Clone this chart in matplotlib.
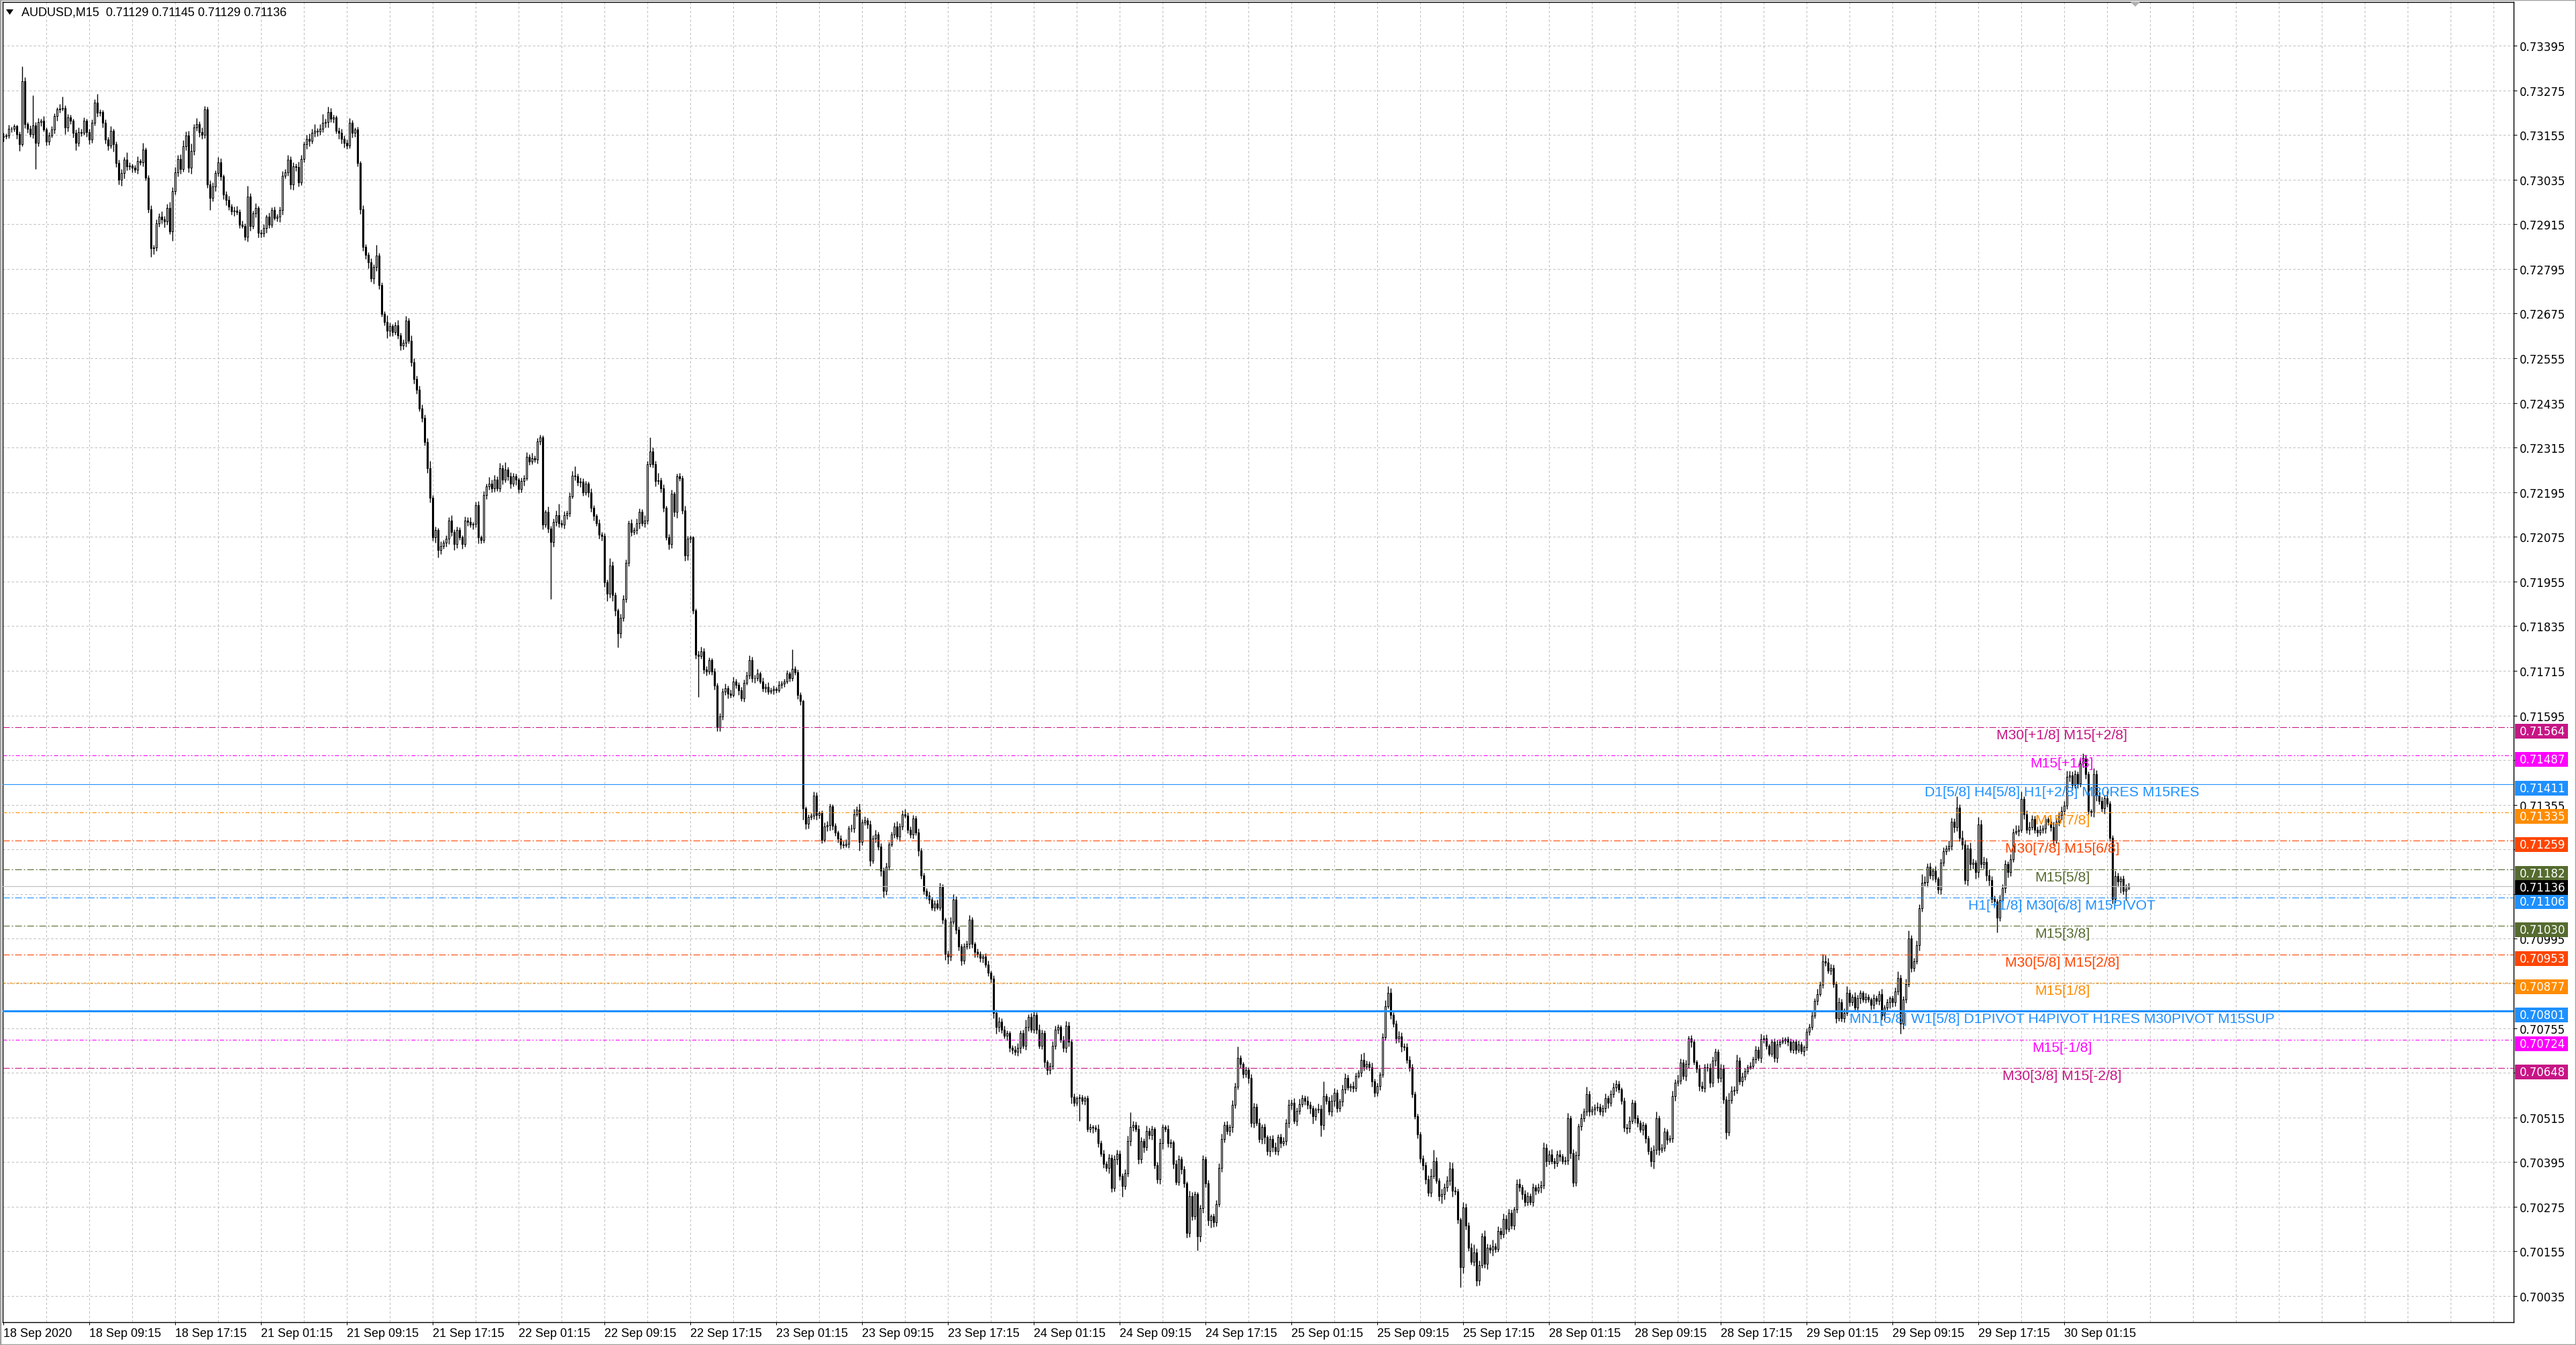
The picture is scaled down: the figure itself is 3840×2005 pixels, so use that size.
import matplotlib
matplotlib.use("Agg")
import matplotlib.pyplot as plt
from matplotlib.patches import Rectangle, Polygon
from matplotlib.transforms import blended_transform_factory
import numpy as np

plt.rcParams['lines.scale_dashes'] = False

# ---- data (prices in points above 0.70000) ----
symbol_title = "AUDUSD,M15  0.71129 0.71145 0.71129 0.71136"
first_open = 3150

closes = [
    3152, 3153, 3172, 3172, 3178, 3157, 3130, 3300, 3184, 3172, 3157, 3181, 3133, 3190, 3193, 3170, 3137, 3154, 3169, 3205, 3223, 3226, 3228, 3175, 3202, 3193, 3160, 3133, 3163, 3161, 3193, 3163,
    3142, 3187, 3241, 3214, 3216, 3187, 3142, 3127, 3166, 3130, 3079, 3034, 3052, 3088, 3070, 3072, 3067, 3061, 3085, 3082, 3115, 3040, 2956, 2851, 2853, 2917, 2935, 2929, 2923, 2959, 2896, 3004,
    3055, 3091, 3064, 3124, 3154, 3067, 3112, 3175, 3184, 3163, 3155, 3223, 3022, 2986, 3016, 3052, 3082, 3043, 2995, 2980, 2962, 2950, 2952, 2948, 2914, 2911, 2881, 2989, 2911, 2944, 2959, 2893,
    2890, 2905, 2935, 2914, 2953, 2932, 2935, 2953, 3046, 3055, 3088, 3022, 3070, 3068, 3028, 3091, 3130, 3145, 3139, 3160, 3166, 3164, 3172, 3187, 3190, 3217, 3199, 3202, 3166, 3160, 3145, 3133,
    3127, 3187, 3160, 3169, 3079, 2956, 2854, 2833, 2812, 2770, 2800, 2830, 2752, 2674, 2653, 2629, 2641, 2626, 2644, 2617, 2590, 2596, 2656, 2602, 2545, 2500, 2470, 2420, 2395, 2330, 2260, 2180,
    2074, 2093, 2040, 2051, 2059, 2070, 2119, 2089, 2055, 2093, 2074, 2055, 2119, 2115, 2108, 2110, 2161, 2074, 2066, 2187, 2210, 2218, 2206, 2229, 2206, 2259, 2229, 2255, 2237, 2218, 2237, 2229,
    2203, 2225, 2233, 2290, 2278, 2286, 2282, 2331, 2343, 2108, 2142, 2097, 2062, 2115, 2134, 2112, 2108, 2134, 2138, 2184, 2240, 2237, 2221, 2223, 2195, 2218, 2195, 2153, 2131, 2112, 2081, 2078,
    1953, 1922, 1998, 1918, 1877, 1816, 1858, 1907, 2006, 2112, 2089, 2093, 2112, 2142, 2112, 2119, 2271, 2305, 2271, 2225, 2227, 2206, 2153, 2074, 2055, 2191, 2142, 2237, 2233, 2146, 2025, 2070,
    2074, 1877, 1759, 1755, 1768, 1718, 1714, 1743, 1714, 1676, 1564, 1592, 1660, 1668, 1654, 1651, 1686, 1678, 1662, 1642, 1683, 1702, 1743, 1695, 1696, 1707, 1687, 1669, 1672, 1660, 1662, 1666,
    1663, 1678, 1680, 1686, 1707, 1696, 1720, 1711, 1651, 1633, 1345, 1304, 1322, 1326, 1380, 1327, 1332, 1261, 1297, 1300, 1351, 1298, 1280, 1264, 1249, 1247, 1250, 1291, 1292, 1330, 1342, 1256,
    1308, 1313, 1303, 1205, 1265, 1276, 1243, 1177, 1123, 1188, 1248, 1276, 1297, 1270, 1297, 1330, 1326, 1287, 1276, 1319, 1281, 1232, 1166, 1123, 1112, 1101, 1079, 1090, 1079, 1134, 1046, 954,
    948, 1041, 1101, 1019, 975, 937, 975, 981, 1046, 981, 959, 954, 943, 948, 926, 904, 888, 795, 757, 773, 751, 735, 741, 702, 697, 691, 702, 741, 708, 757, 784, 751,
    790, 751, 708, 741, 664, 642, 653, 708, 751, 757, 724, 702, 762, 719, 571, 555, 566, 568, 560, 566, 484, 489, 487, 484, 446, 418, 391, 380, 407, 326, 402, 418,
    358, 331, 364, 451, 489, 495, 484, 402, 451, 435, 478, 467, 484, 386, 348, 446, 489, 484, 446, 448, 391, 342, 402, 375, 337, 205, 304, 249, 309, 195, 271, 402,
    337, 238, 249, 233, 282, 380, 457, 495, 478, 489, 549, 598, 675, 659, 631, 642, 620, 500, 544, 500, 457, 489, 462, 424, 457, 435, 424, 462, 446, 451, 500, 549,
    554, 506, 533, 551, 566, 560, 548, 539, 518, 536, 538, 494, 572, 560, 530, 560, 581, 539, 557, 590, 620, 596, 599, 593, 626, 635, 670, 652, 658, 650, 611, 581,
    599, 629, 730, 814, 850, 790, 766, 727, 733, 706, 703, 670, 650, 578, 518, 470, 404, 387, 348, 312, 357, 398, 345, 303, 309, 327, 345, 378, 318, 316, 240, 112,
    273, 225, 165, 127, 153, 76, 118, 195, 121, 165, 159, 168, 162, 210, 201, 243, 216, 258, 225, 267, 336, 327, 309, 288, 303, 288, 327, 318, 327, 333, 434, 398,
    416, 398, 392, 416, 410, 398, 400, 512, 419, 339, 413, 491, 512, 530, 578, 530, 536, 542, 544, 530, 539, 566, 554, 578, 596, 605, 590, 560, 488, 485, 506, 554,
    512, 500, 482, 494, 458, 425, 398, 428, 512, 428, 434, 476, 455, 458, 572, 608, 614, 662, 626, 658, 727, 718, 664, 646, 599, 593, 650, 647, 608, 667, 691, 620,
    646, 564, 475, 561, 586, 589, 668, 611, 625, 639, 650, 654, 671, 696, 675, 725, 728, 707, 686, 718, 675, 711, 718, 721, 725, 718, 696, 718, 696, 711, 693, 703,
    746, 757, 789, 828, 846, 871, 935, 931, 910, 917, 874, 782, 824, 782, 796, 849, 824, 839, 810, 835, 849, 832, 839, 832, 817, 835, 828, 846, 789, 810, 824, 835,
    824, 853, 889, 767, 832, 874, 995, 917, 935, 978, 1077, 1145, 1147, 1188, 1166, 1177, 1156, 1127, 1199, 1231, 1238, 1245, 1309, 1295, 1348, 1266, 1248, 1152, 1238, 1195, 1199, 1174,
    1302, 1195, 1202, 1166, 1152, 1102, 1095, 1052, 1099, 1131, 1195, 1174, 1209, 1281, 1284, 1288, 1370, 1330, 1288, 1295, 1316, 1288, 1281, 1288, 1291, 1316, 1309, 1295, 1259, 1309, 1327, 1338,
    1352, 1430, 1434, 1409, 1437, 1412, 1466, 1480, 1437, 1338, 1334, 1437, 1380, 1366, 1345, 1373, 1359, 1266, 1102, 1163, 1149, 1156, 1124, 1129, 1136,
]

# wick length above / below the body, in points
wick_hi = [
    8, 6, 10, 5, 6, 4, 8, 39, 10, 6, 8, 80, 8, 10, 6, 12, 6, 8, 10, 8, 6, 12, 30, 6, 10, 8, 6, 10, 12, 8, 10, 6,
    8, 10, 10, 24, 8, 6, 10, 8, 12, 6, 8, 10, 12, 8, 20, 10, 6, 8, 12, 6, 18, 6, 8, 10, 6, 12, 10, 14, 8, 10, 16, 10,
    14, 10, 12, 16, 10, 12, 20, 10, 16, 8, 12, 10, 8, 10, 12, 8, 14, 10, 6, 8, 12, 8, 10, 12, 8, 10, 6, 30, 10, 8, 12, 6,
    8, 10, 6, 12, 8, 10, 8, 10, 12, 8, 14, 10, 12, 8, 16, 10, 8, 10, 14, 12, 18, 8, 12, 24, 8, 14, 10, 8, 6, 10, 12, 8,
    10, 14, 8, 6, 8, 6, 10, 8, 6, 12, 8, 30, 8, 6, 8, 18, 10, 6, 8, 14, 6, 10, 12, 8, 14, 10, 8, 12, 10, 8, 10, 20,
    8, 10, 6, 12, 8, 10, 8, 14, 6, 10, 8, 6, 10, 8, 12, 6, 8, 10, 6, 12, 8, 18, 10, 12, 8, 14, 10, 20, 8, 12, 10, 8,
    6, 10, 8, 12, 8, 14, 8, 10, 6, 4, 6, 14, 8, 10, 12, 30, 8, 10, 8, 10, 12, 24, 8, 12, 10, 8, 6, 10, 8, 6, 10, 8,
    6, 8, 20, 10, 8, 6, 10, 12, 8, 6, 10, 8, 12, 10, 8, 14, 8, 38, 10, 8, 20, 8, 10, 6, 8, 10, 6, 8, 10, 6, 12, 8,
    6, 4, 6, 10, 12, 8, 10, 8, 6, 8, 6, 10, 8, 12, 8, 10, 12, 8, 6, 10, 8, 12, 14, 10, 8, 14, 6, 10, 8, 12, 8, 10,
    6, 10, 8, 8, 10, 6, 52, 8, 8, 6, 4, 6, 8, 6, 10, 8, 6, 8, 10, 12, 8, 6, 8, 6, 10, 8, 12, 8, 10, 14, 8, 16,
    8, 10, 8, 10, 8, 12, 6, 8, 10, 12, 8, 6, 10, 14, 8, 10, 14, 8, 10, 8, 6, 10, 8, 6, 8, 10, 6, 8, 10, 12, 8, 6,
    10, 12, 14, 8, 10, 6, 8, 10, 12, 8, 6, 10, 8, 6, 8, 10, 6, 8, 10, 12, 8, 10, 8, 6, 8, 10, 12, 8, 10, 20, 8, 12,
    10, 8, 14, 10, 8, 6, 10, 12, 10, 8, 6, 10, 12, 10, 6, 8, 6, 10, 8, 6, 8, 10, 6, 8, 12, 8, 10, 6, 10, 8, 12, 10,
    8, 6, 12, 14, 40, 10, 8, 10, 12, 8, 14, 10, 8, 6, 10, 12, 8, 6, 10, 8, 6, 10, 12, 8, 10, 6, 14, 10, 8, 6, 10, 12,
    8, 10, 6, 8, 10, 12, 14, 8, 10, 8, 12, 10, 30, 8, 6, 10, 8, 12, 10, 8, 12, 8, 10, 6, 8, 10, 12, 8, 10, 12, 10, 14,
    10, 12, 8, 14, 10, 8, 12, 10, 8, 6, 14, 10, 40, 8, 10, 16, 12, 10, 8, 12, 14, 10, 8, 12, 10, 8, 16, 20, 10, 8, 12, 8,
    10, 8, 12, 16, 18, 12, 8, 10, 14, 10, 8, 12, 10, 8, 6, 8, 6, 10, 8, 12, 20, 30, 10, 8, 14, 10, 12, 18, 16, 10, 8, 6,
    14, 10, 8, 12, 20, 10, 12, 10, 16, 10, 8, 18, 10, 12, 8, 14, 10, 12, 10, 8, 12, 14, 8, 10, 12, 8, 10, 8, 10, 12, 14, 10,
    10, 14, 8, 10, 12, 8, 10, 16, 8, 10, 12, 8, 14, 10, 20, 8, 10, 8, 12, 8, 10, 14, 8, 10, 12, 10, 8, 6, 8, 10, 12, 10,
    8, 10, 8, 10, 6, 8, 10, 12, 18, 8, 10, 12, 8, 10, 14, 10, 16, 12, 10, 12, 8, 10, 8, 6, 10, 12, 8, 10, 14, 12, 10, 8,
    12, 10, 8, 20, 14, 10, 16, 8, 10, 8, 6, 10, 8, 12, 10, 14, 8, 10, 6, 8, 10, 12, 8, 10, 6, 8, 10, 6, 8, 10, 8, 6,
    8, 10, 12, 8, 14, 10, 20, 16, 12, 10, 8, 6, 14, 10, 12, 18, 10, 8, 12, 10, 8, 6, 10, 8, 6, 12, 8, 10, 14, 8, 10, 6,
    8, 12, 18, 10, 8, 14, 22, 10, 8, 12, 10, 24, 16, 10, 12, 8, 14, 6, 12, 10, 8, 14, 12, 10, 30, 8, 20, 12, 10, 16, 12, 8,
    20, 12, 14, 10, 16, 12, 10, 8, 14, 10, 12, 8, 14, 10, 16, 12, 20, 8, 10, 14, 12, 10, 8, 12, 10, 8, 6, 10, 14, 12, 10, 12,
    14, 16, 12, 10, 12, 8, 14, 14, 10, 8, 6, 16, 12, 8, 10, 8, 20, 6, 8, 14, 10, 8, 10, 12, 9,
]

wick_lo = [
    12, 8, 6, 10, 8, 12, 18, 6, 10, 12, 8, 10, 69, 8, 12, 6, 10, 8, 6, 10, 12, 8, 6, 18, 10, 8, 12, 20, 8, 10, 6, 14,
    12, 8, 6, 10, 8, 12, 10, 14, 8, 20, 10, 12, 16, 14, 10, 8, 12, 6, 10, 8, 12, 8, 10, 24, 16, 10, 8, 12, 16, 10, 8, 26,
    10, 12, 14, 8, 10, 12, 16, 10, 8, 14, 10, 8, 10, 33, 10, 12, 8, 10, 12, 14, 8, 10, 12, 8, 10, 6, 8, 12, 14, 8, 10, 14,
    10, 8, 12, 10, 8, 6, 10, 14, 12, 8, 10, 12, 14, 10, 12, 8, 10, 12, 14, 8, 10, 12, 8, 10, 12, 14, 10, 12, 8, 16, 14, 12,
    10, 8, 12, 10, 8, 14, 10, 12, 16, 10, 14, 10, 12, 8, 10, 20, 14, 12, 8, 10, 14, 12, 10, 8, 12, 14, 10, 8, 12, 10, 14, 12,
    10, 14, 20, 12, 8, 10, 14, 12, 16, 10, 8, 12, 6, 10, 8, 12, 10, 16, 8, 6, 10, 8, 12, 10, 8, 10, 12, 8, 10, 12, 8, 14,
    10, 8, 12, 6, 10, 8, 6, 10, 8, 12, 8, 10, 155, 14, 10, 12, 8, 10, 12, 8, 6, 10, 8, 12, 10, 8, 14, 10, 12, 8, 10, 14,
    12, 20, 10, 16, 14, 38, 12, 10, 8, 10, 12, 8, 10, 14, 8, 12, 10, 8, 10, 14, 8, 12, 10, 8, 14, 10, 12, 16, 8, 10, 14, 12,
    10, 8, 12, 110, 8, 10, 12, 8, 10, 12, 12, 12, 8, 10, 12, 8, 6, 10, 12, 8, 10, 6, 8, 10, 12, 8, 6, 10, 12, 8, 6, 10,
    8, 6, 10, 8, 6, 10, 8, 6, 12, 10, 30, 14, 12, 8, 10, 12, 8, 10, 6, 12, 14, 10, 8, 10, 12, 8, 6, 10, 8, 12, 6, 24,
    10, 8, 12, 14, 8, 12, 10, 14, 18, 10, 8, 6, 10, 8, 12, 10, 6, 8, 10, 12, 8, 14, 10, 8, 10, 12, 8, 10, 6, 8, 10, 16,
    20, 12, 8, 10, 12, 14, 10, 8, 12, 10, 14, 8, 10, 12, 8, 10, 12, 14, 18, 12, 10, 8, 14, 10, 12, 8, 10, 14, 8, 12, 10, 8,
    10, 12, 8, 10, 14, 12, 10, 8, 10, 12, 8, 10, 12, 14, 18, 10, 8, 60, 10, 12, 8, 10, 14, 8, 10, 8, 12, 10, 16, 12, 10, 14,
    12, 30, 10, 8, 12, 10, 8, 12, 10, 14, 8, 10, 12, 8, 10, 12, 16, 8, 10, 12, 14, 8, 10, 12, 10, 14, 12, 10, 8, 38, 14, 12,
    10, 14, 20, 12, 10, 8, 12, 10, 8, 12, 14, 10, 8, 12, 10, 8, 14, 10, 12, 8, 10, 12, 18, 10, 14, 12, 8, 10, 12, 8, 10, 12,
    12, 8, 14, 10, 8, 12, 10, 14, 20, 10, 8, 30, 12, 10, 8, 12, 14, 10, 8, 12, 10, 8, 12, 10, 8, 6, 10, 12, 8, 10, 14, 10,
    8, 10, 6, 8, 6, 10, 8, 12, 10, 14, 8, 10, 12, 10, 8, 12, 10, 14, 12, 8, 10, 6, 8, 12, 20, 14, 10, 12, 16, 8, 10, 54,
    16, 12, 10, 8, 10, 14, 12, 8, 10, 14, 8, 16, 10, 8, 12, 10, 14, 8, 10, 12, 8, 10, 14, 12, 10, 8, 12, 10, 8, 14, 10, 16,
    10, 8, 14, 10, 12, 8, 10, 12, 14, 10, 8, 12, 10, 8, 10, 12, 8, 14, 10, 8, 12, 10, 14, 8, 10, 12, 8, 10, 12, 14, 10, 8,
    12, 10, 8, 14, 12, 10, 16, 20, 12, 14, 8, 10, 12, 8, 10, 12, 8, 10, 8, 12, 10, 14, 8, 10, 12, 8, 10, 8, 12, 10, 14, 12,
    10, 12, 18, 10, 8, 12, 10, 8, 12, 10, 8, 6, 8, 10, 8, 12, 10, 8, 6, 8, 10, 12, 8, 6, 8, 10, 6, 8, 10, 6, 8, 12,
    8, 10, 6, 8, 10, 6, 8, 10, 8, 12, 10, 14, 8, 10, 12, 8, 10, 8, 10, 12, 14, 8, 10, 8, 12, 10, 8, 10, 12, 14, 8, 16,
    12, 10, 8, 28, 14, 10, 8, 12, 10, 8, 14, 10, 8, 12, 10, 14, 8, 10, 12, 8, 10, 8, 12, 14, 10, 8, 12, 10, 14, 16, 12, 18,
    14, 10, 12, 16, 14, 10, 12, 40, 10, 8, 12, 14, 10, 8, 6, 12, 8, 14, 10, 12, 8, 10, 12, 8, 10, 12, 8, 10, 12, 8, 10, 12,
    10, 8, 12, 14, 10, 12, 8, 10, 12, 8, 10, 12, 14, 10, 8, 14, 10, 8, 12, 10, 14, 30, 10, 25, 0,
]

time_labels = [
    "18 Sep 2020", "18 Sep 09:15", "18 Sep 17:15", "21 Sep 01:15", "21 Sep 09:15",
    "21 Sep 17:15", "22 Sep 01:15", "22 Sep 09:15", "22 Sep 17:15", "23 Sep 01:15",
    "23 Sep 09:15", "23 Sep 17:15", "24 Sep 01:15", "24 Sep 09:15", "24 Sep 17:15",
    "25 Sep 01:15", "25 Sep 09:15", "25 Sep 17:15", "28 Sep 01:15", "28 Sep 09:15",
    "28 Sep 17:15", "29 Sep 01:15", "29 Sep 09:15", "29 Sep 17:15", "30 Sep 01:15",
]

level_prices = [0.71564, 0.71487, 0.71411, 0.71335, 0.71259, 0.71182, 0.71106,
                0.71030, 0.70953, 0.70877, 0.70801, 0.70724, 0.70648]
level_colors = ["#C71585", "#FF00FF", "#1E90FF", "#FF8C00", "#FF4500", "#556B2F", "#1E90FF",
                "#556B2F", "#FF4500", "#FF8C00", "#1E90FF", "#FF00FF", "#C71585"]
level_texts = [
    "M30[+1/8] M15[+2/8]",
    "M15[+1/8]",
    "D1[5/8] H4[5/8] H1[+2/8] M30RES M15RES",
    "M15[7/8]",
    "M30[7/8] M15[6/8]",
    "M15[5/8]",
    "H1[+1/8] M30[6/8] M15PIVOT",
    "M15[3/8]",
    "M30[5/8] M15[2/8]",
    "M15[1/8]",
    "MN1[5/8] W1[5/8] D1PIVOT H4PIVOT H1RES M30PIVOT M15SUP",
    "M15[-1/8]",
    "M30[3/8] M15[-2/8]",
]
level_styles = ["dashdot", "dashdotdot", "solid", "dashdotdot", "dashdot", "dashdot", "dashdot",
                "dashdot", "dashdot", "dotted", "thick", "dashdotdot", "dashdot"]
last_price = 0.71136

# ---- geometry ----
W, H = 3840, 2006
px_per_price = 55476.0
fig = plt.figure(figsize=(W / 100, H / 100), dpi=100)
ax = fig.add_axes([4 / W, 1 - 1972 / H, (3747 - 4) / W, (1972 - 4) / H])
ax.set_xlim(-0.25, 935.5)
ax.set_ylim(0.699647, 0.735122)

opens = [first_open] + closes[:-1]
x = np.arange(len(closes))
o = 0.7 + np.array(opens) / 1e5
c = 0.7 + np.array(closes) / 1e5
hi = np.maximum(o, c) + np.array(wick_hi) / 1e5
lo = np.minimum(o, c) - np.array(wick_lo) / 1e5

all_prices = level_prices + [last_price]
all_colors = level_colors + ["black"]
box_shift = [2 if col == "black" else 6 for col in all_colors]

# grid
grid_col = "#C0C0C0"
for gx in range(16, 936, 16):
    ax.axvline(gx, color=grid_col, lw=0.75, ls=(0, (2.5, 2.2)), zorder=1)
price_ticks = [0.70035 + 0.0012 * k for k in range(29)]
# scale labels sitting (almost) entirely under a coloured price box are not visible
tick_text = []
for t in price_ticks:
    hidden = any(abs((p - t) * px_per_price - s) < 10 for p, s in zip(all_prices, box_shift))
    tick_text.append("" if hidden else f"{t:.5f}")
ax.set_yticks(price_ticks)
ax.set_yticklabels(tick_text)
ax.grid(axis="y", color=grid_col, lw=0.75, ls=(0, (2.5, 2.2)), zorder=1)

# candles
ax.vlines(x, lo, hi, color="black", lw=1.0, zorder=3)
body_col = ["white" if cc >= oo else "black" for oo, cc in zip(o, c)]
ax.bar(x, c - o, bottom=o, width=0.7, color=body_col, edgecolor="black", linewidth=0.8, zorder=4)

# level lines
dash_map = {
    "dashdot": (0, (7.2, 2.2, 1.4, 2.2)),
    "dashdotdot": (0, (4.3, 2.2, 1.4, 2.2, 1.4, 2.2)),
    "dotted": (0, (3.0, 1.5, 1.2, 1.5)),
    "solid": "-",
    "thick": "-",
}
ax.axhline(last_price, color="#C0C0C0", lw=0.9, zorder=5)
for p, col, st, txt in zip(level_prices, level_colors, level_styles, level_texts):
    lw = 2.2 if st == "thick" else 0.8
    ax.axhline(p, color=col, lw=lw, ls=dash_map[st], zorder=5)
    ax.text(767.25, p - 2 / px_per_price, txt, color=col, ha="center", va="top",
            fontsize=15.2, family=["Liberation Sans", "DejaVu Sans"], zorder=7)

# axes styling
for s in ax.spines.values():
    s.set_color("black")
    s.set_linewidth(1.0)
ax.yaxis.tick_right()
ax.tick_params(axis="y", length=3.6, width=0.75, pad=3, labelsize=12, colors="black")
label_bars = [32 * k for k in range(len(time_labels))]
ax.set_xticks(label_bars)
ax.set_xticklabels(time_labels, ha="left", fontsize=13, family=["Liberation Sans", "DejaVu Sans"])
ax.tick_params(axis="x", length=3.0, width=0.75, pad=2.5, colors="black")

# price labels on the right scale
tr = blended_transform_factory(ax.transAxes, ax.transData)
box_x0 = (3749 - 4) / 3743
box_w = 79 / 3743
txt_x = (3756 - 4) / 3743
box_h = 22 / px_per_price
for p, col, shift in zip(all_prices, all_colors, box_shift):
    yc = p - shift / px_per_price
    ax.add_patch(Rectangle((box_x0, yc - box_h / 2), box_w, box_h, transform=tr,
                           facecolor=col, edgecolor="none", clip_on=False, zorder=10))
    ax.text(txt_x, yc, f"{p:.5f}", transform=tr, color="white", fontsize=12,
            va="center", ha="left", clip_on=False, zorder=11)

# header
fig.text(32 / W, 1 - 19 / H, symbol_title, fontsize=13, va="center", ha="left",
         family=["Liberation Sans", "DejaVu Sans"])
fig.patches.append(Polygon([[9 / W, 1 - 15 / H], [20 / W, 1 - 15 / H], [14.5 / W, 1 - 23 / H]],
                           closed=True, transform=fig.transFigure, facecolor="black", edgecolor="none"))
fig.patches.append(Polygon([[3176 / W, 1 - 4 / H], [3190 / W, 1 - 4 / H], [3183 / W, 1 - 11 / H]],
                           closed=True, transform=fig.transFigure, facecolor="#B0B0B0", edgecolor="none"))
fig.patches.append(Rectangle((0, 0), 1, 1, transform=fig.transFigure, fill=False,
                             edgecolor="#A0A0A0", lw=2.5))

fig.savefig("out.png", dpi=100)
